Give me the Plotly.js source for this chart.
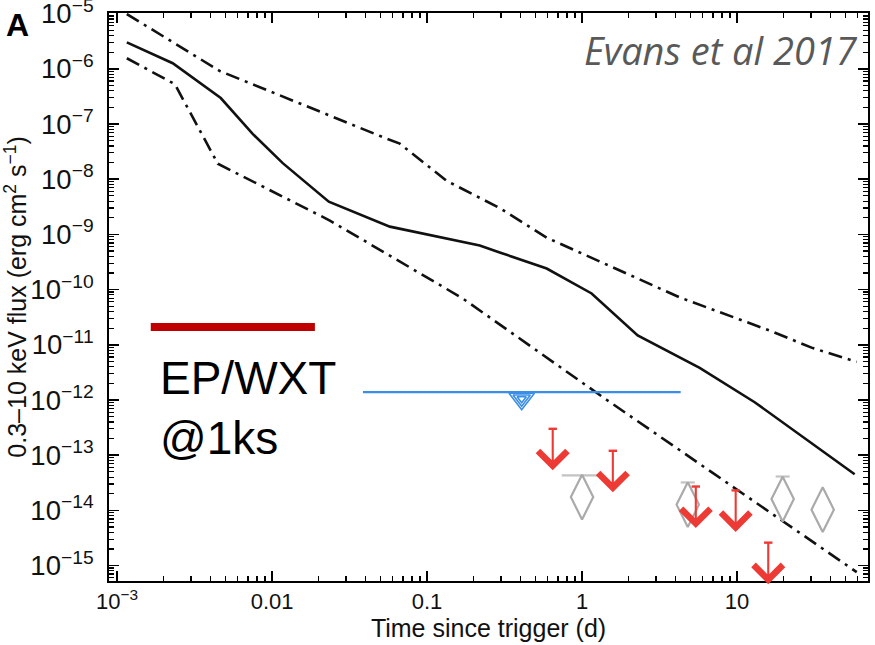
<!DOCTYPE html>
<html>
<head>
<meta charset="utf-8">
<script src="https://cdn.plot.ly/plotly-3.0.1.min.js"></script>
<style>
  html, body { margin: 0; padding: 0; background: #ffffff; }
  #chart { width: 875px; height: 645px; }
</style>
</head>
<body>
<div id="chart"></div>
<script>
// ---- Data (time in days, flux in erg cm^-2 s^-1) ----
// Model light curve (solid) and its upper / lower envelopes (dash-dot)
const solidT = [0.001156, 0.002286, 0.004667, 0.0075, 0.01172, 0.02323, 0.05754, 0.2188, 0.2944, 0.5916, 1.153, 2.286, 5.741, 13.0, 57.4];
const solidF = [3.0e-6, 1.26e-6, 2.95e-7, 6.6e-8, 1.95e-8, 3.9e-9, 1.38e-9, 6.3e-10, 4.7e-10, 2.4e-10, 8.5e-11, 1.48e-11, 3.8e-12, 9.1e-13, 4.5e-14];

const upperT = [0.001156, 0.0046, 0.055, 0.0667, 0.134, 0.294, 0.592, 4.27, 16.3, 30.8, 59.2];
const upperF = [9.8e-6, 9.1e-7, 5.4e-8, 4.4e-8, 9.3e-9, 3.0e-9, 8.7e-10, 7.2e-11, 1.8e-11, 8.7e-12, 4.9e-12];

const lowerT = [0.001156, 0.00236, 0.00447, 0.0236, 0.170, 1.445, 59.2];
const lowerF = [1.55e-6, 5.25e-7, 1.9e-8, 1.78e-9, 6.9e-11, 1.0e-12, 7.6e-16];

// EP/WXT sensitivity at 1 ks (dark red bar)
const wxtT = [0.00165, 0.0189];
const wxtF = [2.1e-11, 2.1e-11];

// Blue horizontal limit and blue triangle
const blueT = [0.0386, 4.33];
const blueF = [1.39e-12, 1.39e-12];
const triT = [0.408];
const triF = [1.05e-12];

// Red upper limits (arrows)
const limT = [0.647, 1.58, 5.42, 9.8, 15.9];
const limF = [3.0e-13, 1.2e-13, 2.7e-14, 2.3e-14, 2.6e-15];

// Grey diamonds and their upper caps
const diaT = [1.0, 4.81, 19.7, 35.7];
const diaF = [1.74e-14, 1.27e-14, 1.6e-14, 1.03e-14];
const capT = [1.0, 4.81, 19.7];
const capF = [4.3e-14, 3.2e-14, 4.1e-14];

// Tick labels
const xTickVals = [0.001, 0.01, 0.1, 1, 10];
const xTickText = ['10<sup>\u22123</sup>', '0.01', '0.1', '1', '10'];

// ---- Styles ----
const RED = 'rgb(238,58,52)';
const BLUE = 'rgb(58,142,232)';
const GREY = 'rgb(170,170,170)';
const DASHDOT = '14px,6px,3px,6px';
const FONT = 'Liberation Sans, Arial, Helvetica, sans-serif';

const traces = [
  {x: upperT, y: upperF, mode: 'lines', line: {color: '#111', width: 2.6, dash: DASHDOT}},
  {x: lowerT, y: lowerF, mode: 'lines', line: {color: '#111', width: 2.6, dash: DASHDOT}},
  {x: solidT, y: solidF, mode: 'lines', line: {color: '#111', width: 2.6}},
  {x: wxtT, y: wxtF, mode: 'lines', line: {color: '#c00000', width: 8}},
  {x: blueT, y: blueF, mode: 'lines', line: {color: BLUE, width: 2.2}},
  {x: diaT, y: diaF, mode: 'markers', marker: {symbol: 'diamond-tall-open', size: 32, color: GREY, line: {color: GREY, width: 2.2}}},
  {x: capT, y: capF, mode: 'markers', marker: {symbol: 'line-ew-open', size: [29, 10, 10], color: GREY, line: {color: GREY, width: 2.2}}},
  {x: limT, y: limF, mode: 'markers', marker: {symbol: 'line-ew-open', size: 6, color: RED, line: {color: RED, width: 2.4}}}
];
[22, 15, 8].forEach(s => traces.push({
  x: triT, y: triF, mode: 'markers',
  marker: {symbol: 'triangle-down-open', size: s, color: BLUE, line: {color: BLUE, width: 1.6}}
}));

const annotations = limT.map((t, i) => ({
  x: Math.log10(t), y: Math.log10(limF[i]), xref: 'x', yref: 'y',
  ax: 0, ay: 43, text: '', showarrow: true, arrowside: 'start',
  startarrowhead: 4, startarrowsize: 2.7, arrowwidth: 2.1, arrowcolor: RED
}));

annotations.push(
  {xref: 'paper', yref: 'paper', x: 0.064, y: 0.357, xanchor: 'left', yanchor: 'middle', showarrow: false,
   text: 'EP/WXT', font: {family: FONT, size: 46, color: '#000'}},
  {xref: 'paper', yref: 'paper', x: 0.064, y: 0.252, xanchor: 'left', yanchor: 'middle', showarrow: false,
   text: '@1ks', font: {family: FONT, size: 46, color: '#000'}},
  {xref: 'paper', yref: 'paper', x: 0.99, y: 0.935, xanchor: 'right', yanchor: 'middle', showarrow: false,
   text: '<i>Evans et al 2017</i>', font: {family: 'Open Sans, DejaVu Sans, sans-serif', size: 38, color: '#595959'}},
  {xref: 'paper', yref: 'paper', x: -0.121, y: 0.979, xanchor: 'center', yanchor: 'middle', showarrow: false,
   text: '<b>A</b>', font: {family: FONT, size: 32, color: '#000'}},
  {xref: 'paper', yref: 'paper', x: -0.123, y: 0.5, xanchor: 'center', yanchor: 'middle', showarrow: false,
   textangle: -90,
   text: '0.3\u201310 keV flux (erg cm<sup>2</sup> s<sup>\u22121</sup>)', font: {family: FONT, size: 25, color: '#111'}}
);

const axisCommon = {
  type: 'log', showline: true, linewidth: 2, linecolor: '#000', mirror: 'ticks',
  ticks: 'inside', ticklen: 10, tickwidth: 1.5, tickcolor: '#000',
  showgrid: false, zeroline: false, ticklabeloverflow: 'allow',
  tickfont: {family: FONT, size: 22, color: '#111'},
  minor: {ticks: 'inside', ticklen: 5, tickwidth: 1.2, tickcolor: '#000', dtick: 'D1', showgrid: false}
};

const layout = {
  width: 875, height: 645,
  margin: {l: 109, r: 7, t: 13, b: 64},
  paper_bgcolor: '#fff', plot_bgcolor: '#fff',
  showlegend: false,
  xaxis: Object.assign({}, axisCommon, {
    range: [-3.052, 1.845],
    tickmode: 'array', tickvals: xTickVals, ticktext: xTickText,
    ticklabelstandoff: 0,
    title: {text: 'Time since trigger (d)', font: {family: FONT, size: 25, color: '#111'}, standoff: 3}
  }),
  yaxis: Object.assign({}, axisCommon, {
    range: [-15.28, -4.99],
    dtick: 1, exponentformat: 'power', showexponent: 'all',
    ticklabelstandoff: 9
  }),
  annotations: annotations
};

Plotly.newPlot('chart', traces, layout, {staticPlot: true, displayModeBar: false});
</script>
</body>
</html>
